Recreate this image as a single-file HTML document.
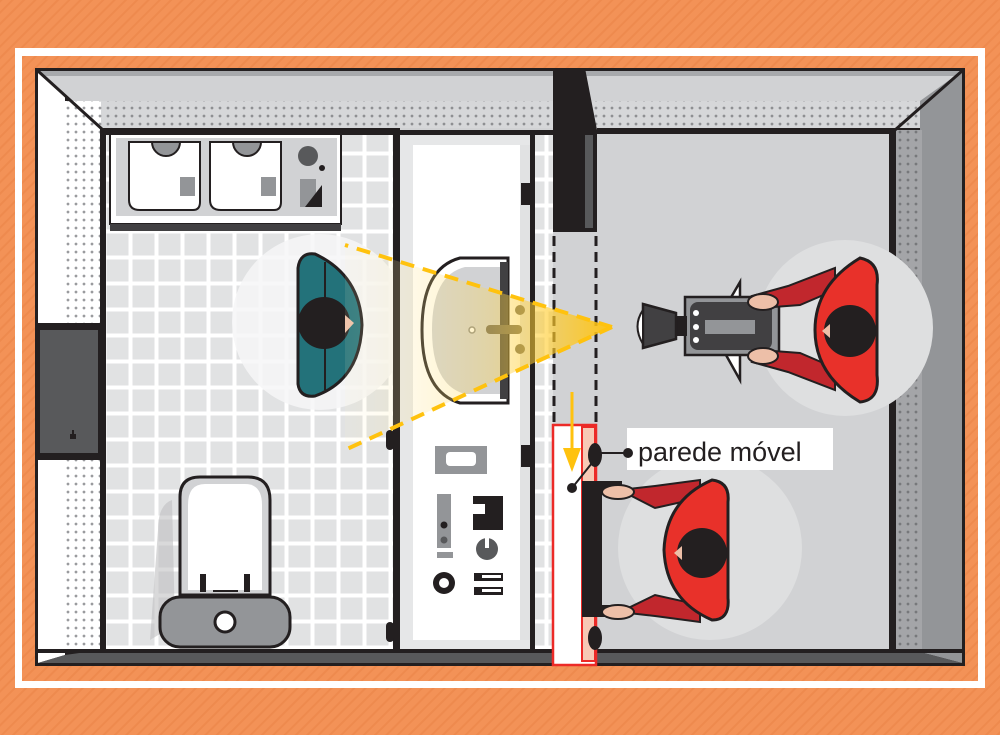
<!DOCTYPE html>
<html><head><meta charset="utf-8"><style>
html,body{margin:0;padding:0;background:#F39257;}
svg{display:block}
</style></head><body>
<svg width="1000" height="735" viewBox="0 0 1000 735" xmlns="http://www.w3.org/2000/svg">
<defs>
<pattern id="stripe" width="8" height="8" patternUnits="userSpaceOnUse" patternTransform="rotate(45)">
<rect width="8" height="8" fill="#F39257"/><rect width="2" height="8" fill="#EE8A4E"/>
</pattern>
<pattern id="tiles" x="105" y="232" width="26" height="26" patternUnits="userSpaceOnUse">
<rect width="26" height="26" fill="#FFFFFF"/><rect x="1.5" y="1.5" width="22" height="22" fill="#E1E2E3"/>
</pattern>
<pattern id="dots" width="8" height="8" patternUnits="userSpaceOnUse">
<rect width="8" height="8" fill="#D6D7D9"/><circle cx="4" cy="4" r="1.4" fill="#8E8F92"/>
</pattern>
<pattern id="dots2" width="8" height="8" patternUnits="userSpaceOnUse">
<rect width="8" height="8" fill="#A4A5A8"/><circle cx="4" cy="4" r="1.4" fill="#77787B"/>
</pattern>
<pattern id="dotsw" width="8" height="8" patternUnits="userSpaceOnUse">
<rect width="8" height="8" fill="#FFFFFF"/><circle cx="4" cy="4" r="1.4" fill="#9A9B9E"/>
</pattern>
<linearGradient id="cone" x1="1" y1="0" x2="0" y2="0">
<stop offset="0" stop-color="#FFC20E" stop-opacity="0.95"/>
<stop offset="0.45" stop-color="#FFD54A" stop-opacity="0.35"/>
<stop offset="1" stop-color="#FFF3C8" stop-opacity="0.1"/>
</linearGradient>
</defs>
<rect width="1000" height="735" fill="url(#stripe)"/>
<rect x="15" y="48" width="970" height="640" fill="#fff"/>
<rect x="22" y="56" width="956" height="625" fill="url(#stripe)"/>

<!-- room outer -->
<rect x="35" y="68" width="930" height="598" fill="#231F20"/>
<!-- top wall -->
<polygon points="38,71 962,71 897,130 101,130" fill="#D1D2D4"/>
<rect x="38" y="71" width="924" height="5" fill="#A7A9AC"/>
<rect x="98" y="101" width="824" height="27" fill="url(#dots)"/>
<!-- left wall -->
<polygon points="38,71 65,95 65,655 38,663" fill="#fff"/>
<rect x="65" y="101" width="36" height="222" fill="url(#dotsw)"/>
<rect x="65" y="460" width="36" height="192" fill="url(#dotsw)"/>
<line x1="38" y1="71" x2="103" y2="130" stroke="#231F20" stroke-width="3"/>
<!-- right wall -->
<polygon points="962,71 962,663 920,652 920,101" fill="#939598"/>
<rect x="895" y="130" width="27" height="522" fill="url(#dots2)"/>
<line x1="962" y1="71" x2="895" y2="130" stroke="#231F20" stroke-width="3"/>
<!-- door left -->
<rect x="37" y="323" width="66" height="137" fill="#231F20"/>
<rect x="40" y="330" width="58" height="123" fill="#58595B"/>
<rect x="70" y="434" width="6" height="5" fill="#231F20"/><rect x="72" y="430" width="2" height="5" fill="#231F20"/>

<!-- left room floor -->
<rect x="105" y="135" width="290" height="515" fill="url(#tiles)"/>
<rect x="101" y="128" width="299" height="6" fill="#231F20"/>
<rect x="100" y="128" width="6" height="527" fill="#231F20"/>
<circle cx="320" cy="322" r="88" fill="#F6F6F7" opacity="0.85"/>
<!-- cabinet -->
<rect x="110" y="134" width="231" height="90" fill="#fff" stroke="#231F20" stroke-width="2"/>
<rect x="116" y="138" width="221" height="78" fill="#D1D2D4"/>
<rect x="110" y="224" width="231" height="7" fill="#414042"/>
<path d="M129,142 V200 Q129,210 140,210 H193 Q200,210 200,202 V142 Z" fill="#fff" stroke="#231F20" stroke-width="2"/>
<path d="M210,142 V200 Q210,210 221,210 H274 Q281,210 281,202 V142 Z" fill="#fff" stroke="#231F20" stroke-width="2"/>
<path d="M152,142 A14,14 0 0 0 180,142 Z" fill="#939598" stroke="#231F20" stroke-width="2"/>
<path d="M233,142 A14,14 0 0 0 261,142 Z" fill="#939598" stroke="#231F20" stroke-width="2"/>
<rect x="180" y="177" width="15" height="19" fill="#939598"/>
<rect x="261" y="177" width="15" height="19" fill="#939598"/>
<circle cx="308" cy="156" r="10" fill="#58595B"/><circle cx="322" cy="168" r="3" fill="#231F20"/>
<rect x="300" y="179" width="16" height="28" fill="#939598"/>
<polygon points="305,207 322,185 322,207" fill="#231F20"/>

<!-- teal person -->
<path d="M298,268 Q300,252 315,254 Q360,275 362,325 Q360,380 315,396 Q300,398 298,384 Z" fill="#23727A" stroke="#231F20" stroke-width="3"/>
<line x1="325" y1="262" x2="325" y2="390" stroke="#231F20" stroke-width="2"/>
<circle cx="324" cy="323" r="26" fill="#231F20"/>
<path d="M345,315 L354,323 L345,333 Z" fill="#EDBFA8"/>

<!-- toilet -->
<path d="M158,530 Q158,505 172,500 L175,625 L150,640 Z" fill="#BFC0C2" opacity="0.6"/>
<path d="M180,497 Q180,477 200,477 L248,477 Q270,477 270,500 L270,595 L180,595 Z" fill="#D1D2D4" stroke="#231F20" stroke-width="3"/>
<path d="M188,505 Q188,484 205,484 L245,484 Q262,484 262,505 L262,590 L188,590 Z" fill="#fff"/>
<rect x="200" y="574" width="6" height="18" fill="#231F20"/><rect x="244" y="574" width="6" height="18" fill="#231F20"/>
<rect x="213" y="590" width="25" height="2" fill="#231F20"/>
<rect x="160" y="597" width="130" height="50" rx="20" fill="#939598" stroke="#231F20" stroke-width="3"/>
<circle cx="225" cy="622" r="10" fill="#fff" stroke="#231F20" stroke-width="3"/>

<!-- column / shower panel -->
<rect x="393" y="133" width="7" height="517" fill="#231F20"/>
<rect x="400" y="135" width="138" height="515" fill="#E6E7E8"/>
<rect x="413" y="145" width="115" height="495" fill="#fff"/>
<rect x="520" y="145" width="12" height="495" fill="#E1E2E3"/>
<rect x="530" y="135" width="5" height="515" fill="#231F20"/>
<rect x="535" y="135" width="18" height="515" fill="url(#tiles)"/>
<rect x="521" y="183" width="12" height="22" fill="#231F20"/>
<rect x="521" y="445" width="12" height="22" fill="#231F20"/>
<rect x="386" y="430" width="8" height="20" rx="4" fill="#231F20"/>
<rect x="386" y="622" width="8" height="20" rx="4" fill="#231F20"/>
<!-- sink -->
<path d="M508,258 L460,258 Q422,268 422,330 Q422,392 460,403 L508,403 Z" fill="#fff" stroke="#231F20" stroke-width="3"/>
<path d="M500,267 L465,267 Q432,275 432,330 Q432,385 465,394 L500,394 Z" fill="#D1D2D4"/>
<rect x="500" y="262" width="8" height="137" fill="#414042"/>
<circle cx="472" cy="330" r="3" fill="#fff" stroke="#888" stroke-width="1.5"/>
<rect x="486" y="325" width="36" height="9" rx="4" fill="#6D6656"/>
<circle cx="520" cy="310" r="5" fill="#6D6656"/><circle cx="520" cy="349" r="5" fill="#6D6656"/>
<!-- controls -->
<rect x="435" y="446" width="52" height="28" fill="#939598"/>
<rect x="446" y="452" width="30" height="14" rx="4" fill="#fff"/>
<rect x="437" y="494" width="14" height="54" fill="#939598"/>
<circle cx="444" cy="525" r="3.5" fill="#231F20"/><circle cx="444" cy="540" r="3.5" fill="#58595B"/>
<rect x="473" y="496" width="30" height="34" fill="#231F20"/>
<rect x="473" y="504" width="12" height="10" fill="#fff"/>
<rect x="437" y="552" width="16" height="6" fill="#939598"/>
<circle cx="487" cy="549" r="11" fill="#58595B"/><rect x="485" y="538" width="4" height="10" fill="#fff"/>
<circle cx="444" cy="583" r="11" fill="#231F20"/><circle cx="444" cy="583" r="5" fill="#fff"/>
<rect x="474" y="573" width="29" height="8" fill="#231F20"/><rect x="482" y="575" width="19" height="3" fill="#fff"/>
<rect x="474" y="587" width="29" height="8" fill="#231F20"/><rect x="482" y="589" width="19" height="3" fill="#fff"/>

<!-- right room floor -->
<rect x="597" y="133" width="298" height="519" fill="#D1D2D4"/>
<rect x="597" y="128" width="298" height="6" fill="#231F20"/>
<rect x="889" y="128" width="7" height="524" fill="#231F20"/>
<rect x="553" y="232" width="44" height="193" fill="#D1D2D4"/>
<circle cx="845" cy="328" r="88" fill="#DEDFE0"/>
<circle cx="710" cy="548" r="92" fill="#DEDFE0"/>

<!-- partition wall -->
<polygon points="553,68 585,68 597,130 597,232 553,232" fill="#231F20"/>
<rect x="585" y="135" width="8" height="93" fill="#58595B"/>
<line x1="554" y1="236" x2="554" y2="425" stroke="#231F20" stroke-width="3" stroke-dasharray="10,6"/>
<line x1="596" y1="236" x2="596" y2="425" stroke="#231F20" stroke-width="3" stroke-dasharray="10,6"/>

<!-- bottom wall -->
<polygon points="38,663 65,655 101,650 895,650 920,652 962,663" fill="#58595B"/>
<rect x="38" y="649" width="924" height="4" fill="#231F20"/>

<!-- movable wall -->
<rect x="553" y="425" width="43" height="240" fill="#fff" stroke="#EC2A27" stroke-width="2.5"/>
<rect x="582" y="427" width="13" height="234" fill="#F7C9B5" stroke="#EC2A27" stroke-width="2"/>
<ellipse cx="595" cy="455" rx="7" ry="12" fill="#231F20"/>
<ellipse cx="595" cy="638" rx="7" ry="12" fill="#231F20"/>

<!-- cone -->
<polygon points="612,327 345,245 345,450" fill="url(#cone)"/>
<line x1="612" y1="327" x2="345" y2="245" stroke="#FFC20E" stroke-width="4" stroke-dasharray="14,9"/>
<line x1="612" y1="327" x2="345" y2="450" stroke="#FFC20E" stroke-width="4" stroke-dasharray="14,9"/>

<!-- camera person -->
<polygon points="740,282 740,380 712,330" fill="#fff" stroke="#231F20" stroke-width="2.5"/>
<rect x="685" y="297" width="94" height="58" fill="#939598" stroke="#231F20" stroke-width="2.5"/>
<rect x="690" y="302" width="82" height="48" rx="8" fill="#414042"/>
<rect x="705" y="320" width="50" height="14" fill="#939598"/>
<circle cx="696" cy="313" r="3" fill="#fff"/><circle cx="696" cy="327" r="3" fill="#fff"/><circle cx="696" cy="340" r="3" fill="#fff"/>
<rect x="675" y="316" width="12" height="20" fill="#231F20"/>
<polygon points="643,304 676,313 676,339 643,348" fill="#414042" stroke="#231F20" stroke-width="2.5"/>
<path d="M643,310 Q632,326 643,344 Z" fill="#fff" stroke="#231F20" stroke-width="2"/>
<path d="M752,296 L788,286 L835,268 L835,290 L800,305 L760,308 Z" fill="#C1272D" stroke="#231F20" stroke-width="2"/>
<path d="M752,362 L788,372 L835,390 L835,368 L800,353 L760,350 Z" fill="#C1272D" stroke="#231F20" stroke-width="2"/>
<ellipse cx="763" cy="302" rx="15" ry="8" fill="#EDBFA8" stroke="#231F20" stroke-width="2"/>
<ellipse cx="763" cy="356" rx="15" ry="8" fill="#EDBFA8" stroke="#231F20" stroke-width="2"/>
<path d="M860,258 Q880,262 877,285 L877,375 Q880,400 860,402 Q815,375 815,330 Q815,285 860,258 Z" fill="#E8312A" stroke="#231F20" stroke-width="3"/>
<circle cx="850" cy="331" r="26" fill="#231F20"/>
<path d="M830,324 L822,331 L830,338 Z" fill="#EDBFA8"/>

<!-- second person -->
<rect x="582" y="481" width="20" height="130" fill="#231F20"/>
<rect x="582" y="481" width="40" height="12" fill="#231F20"/>
<rect x="582" y="605" width="40" height="12" fill="#231F20"/>
<path d="M620,490 L655,508 L700,498 L700,480 L655,486 Z" fill="#C1272D" stroke="#231F20" stroke-width="2"/>
<path d="M620,612 L655,595 L700,605 L700,622 L655,616 Z" fill="#C1272D" stroke="#231F20" stroke-width="2"/>
<ellipse cx="618" cy="492" rx="16" ry="7" fill="#EDBFA8" stroke="#231F20" stroke-width="2"/>
<ellipse cx="618" cy="612" rx="16" ry="7" fill="#EDBFA8" stroke="#231F20" stroke-width="2"/>
<path d="M712,480 Q730,482 728,502 L728,598 Q730,620 712,620 Q666,600 664,550 Q666,500 712,480 Z" fill="#E8312A" stroke="#231F20" stroke-width="3"/>
<circle cx="702" cy="553" r="25" fill="#231F20"/>
<path d="M682,546 L674,553 L682,560 Z" fill="#EDBFA8"/>

<!-- yellow arrow -->
<line x1="572" y1="392" x2="572" y2="455" stroke="#FFC20E" stroke-width="3"/>
<polygon points="563,448 581,448 572,472" fill="#FFC20E"/>

<!-- label -->
<rect x="627" y="428" width="206" height="42" fill="#fff"/>
<text x="638" y="461" font-family="Liberation Sans, sans-serif" font-size="27" fill="#231F20">parede móvel</text>
<circle cx="628" cy="453" r="5" fill="#231F20"/>
<polyline points="628,453 600,453 572,488" fill="none" stroke="#231F20" stroke-width="2"/>
<circle cx="572" cy="488" r="5" fill="#231F20"/>
</svg>
</body></html>
